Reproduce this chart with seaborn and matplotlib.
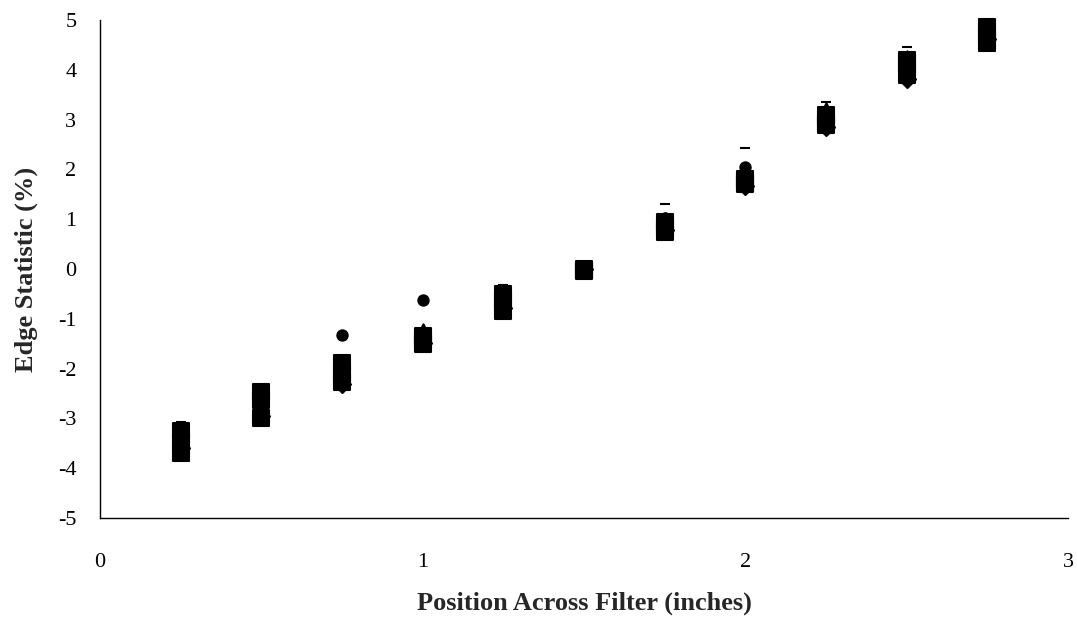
import matplotlib
matplotlib.use("Agg")
import matplotlib.pyplot as plt
import seaborn as sns
import pandas as pd

# Measurement positions across the filter (inches)
positions = [0.25, 0.5, 0.75, 1.0, 1.25, 1.5, 1.75, 2.0, 2.25, 2.5, 2.75]

# Edge statistic (%) for each run
run_diamond  = [-3.60, -2.95, -2.30, -1.48, -0.78, 0.00, 0.78, 1.66, 2.85, 3.82, 4.62]
run_square_a = [-3.25, -2.47, -1.89, -1.35, -0.50, 0.00, 0.85, 1.75, 2.90, 3.90, 4.85]
run_square_b = [-3.69, -2.99, -2.27, -1.50, -0.84, -0.02, 0.95, 1.80, 3.10, 4.10, 4.54]
run_square_c = [-3.45, -2.63, -2.10, -1.42, -0.65, -0.05, 0.75, 1.70, 2.95, 4.20, 4.70]
run_triangle = [-3.20, -2.60, -1.95, -1.22, -0.45, 0.00, 1.00, 1.90, 3.22, 4.25, 4.90]
run_circle   = [-3.30, -2.70, -1.33, -0.62, -0.50, 0.00, 1.02, 2.05, 3.10, 4.10, 4.80]
run_dash     = [-3.08, -2.50, -1.85, -1.25, -0.32, 0.00, 1.30, 2.42, 3.35, 4.45, 5.00]

series = [
    (run_diamond, "D", 75, 2),
    (run_square_a, "s", 140, 3),
    (run_square_b, "s", 140, 3),
    (run_square_c, "s", 140, 3),
    (run_triangle, "^", 80, 2.5),
    (run_circle, "o", 55, 3),
    (run_dash, "_", 60, 3),
]

sns.set_style("white")
plt.rcParams["font.family"] = ["Liberation Serif", "DejaVu Serif"]
plt.rcParams["axes.unicode_minus"] = False

fig = plt.figure(figsize=(10.77, 6.21), dpi=100)
ax = fig.add_axes([100 / 1077, 1 - 518 / 621, 968 / 1077, 498 / 621])

for values, marker, size, z in series:
    df = pd.DataFrame({"position": positions, "edge": values})
    sns.scatterplot(data=df, x="position", y="edge", marker=marker, s=size,
                    color="black", edgecolor="black", linewidth=1.5,
                    ax=ax, clip_on=False, zorder=z)

ax.set_xlim(0, 3)
ax.set_ylim(-5, 5)
ax.set_xticks([0, 1, 2, 3])
ax.set_yticks(range(-5, 6))
ax.tick_params(axis="both", direction="out", length=5, width=1, colors="black",
               labelsize=16)
ax.tick_params(axis="x", pad=20)
ax.tick_params(axis="y", pad=12)
for side in ("top", "right"):
    ax.spines[side].set_visible(False)
for side in ("left", "bottom"):
    ax.spines[side].set_color("black")
    ax.spines[side].set_linewidth(1)

ax.set_xlabel("Position Across Filter (inches)", fontsize=19, fontweight="bold", labelpad=14)
ax.set_ylabel("Edge Statistic (%)", fontsize=19, fontweight="bold", labelpad=14)

fig.savefig("out.png", dpi=100)
